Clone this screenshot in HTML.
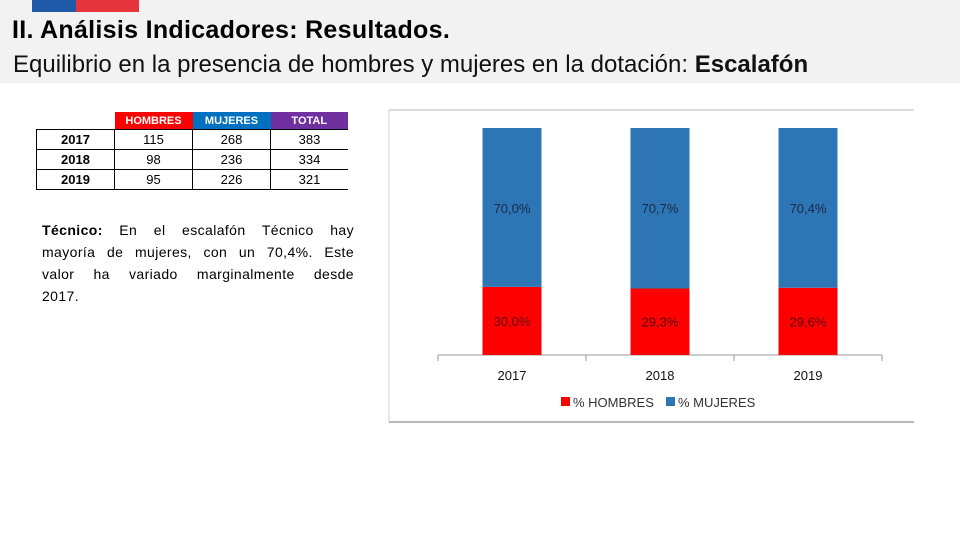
<!DOCTYPE html>
<html><head><meta charset="utf-8"><style>
body{margin:0;width:960px;height:540px;background:#fff;position:relative;overflow:hidden;font-family:"Liberation Sans",sans-serif}
.abs{position:absolute}
table{border-collapse:collapse;position:absolute;left:36px;top:112px;font-size:13px}
td{width:77px;height:19px;text-align:center;padding:0;border-left:1px solid #000;border-bottom:1px solid #000}
th{height:17px;color:#fff;font-size:11px;padding:0;border:none}
.ln{display:block;text-align:justify;text-align-last:justify}
</style></head><body>
<div class="abs" style="left:0;top:0;width:960px;height:83px;background:#f2f2f2"></div>
<div class="abs" style="left:32px;top:0;width:44px;height:12px;background:#1f5ba8"></div>
<div class="abs" style="left:76px;top:0;width:63px;height:12px;background:#e5343c"></div>
<div class="abs" style="left:12px;top:16px;font-size:25px;font-weight:bold;letter-spacing:0.3px">II. Análisis Indicadores: Resultados.</div>
<div class="abs" style="left:13px;top:51px;font-size:24px;color:#111">Equilibrio en la presencia de hombres y mujeres en la dotación: <b>Escalafón</b></div>
<table>
<tr><th style="background:none;border:none"></th><th style="background:#f00">HOMBRES</th><th style="background:#0070c0">MUJERES</th><th style="background:#7030a0">TOTAL</th></tr>
<tr style="border-top:1px solid #000"><td style="font-weight:bold">2017</td><td>115</td><td>268</td><td>383</td></tr>
<tr><td style="font-weight:bold">2018</td><td>98</td><td>236</td><td>334</td></tr>
<tr><td style="font-weight:bold">2019</td><td>95</td><td>226</td><td>321</td></tr>
</table>
<div class="abs" style="left:42px;top:219px;width:312px;font-size:14px;line-height:22px;letter-spacing:0.4px">
<span class="ln"><b>Técnico:</b> En el escalafón Técnico hay</span>
<span class="ln">mayoría de mujeres, con un 70,4%. Este</span>
<span class="ln">valor ha variado marginalmente desde</span>
<span style="display:block">2017.</span></div>
<svg class="abs" style="left:0;top:0" width="960" height="540">
<line x1="389" y1="110" x2="914" y2="110" stroke="#d0d0d0" stroke-width="1.5"/>
<line x1="389" y1="110" x2="389" y2="422" stroke="#d0d0d0"/>
<line x1="389" y1="422" x2="914" y2="422" stroke="#b8b8b8" stroke-width="2"/>
<g id="g"></g>
<rect x="561" y="397" width="9" height="9" fill="#f00"/>
<text x="573" y="407" font-size="13" fill="#333">% HOMBRES</text>
<rect x="666" y="397" width="9" height="9" fill="#2e75b6"/>
<text x="678" y="407" font-size="13" fill="#333">% MUJERES</text>
</svg>
<script>
const categories=["2017","2018","2019"];
const hombres=[30.0,29.3,29.6];
const mujeres=[70.0,70.7,70.4];
const ns="http://www.w3.org/2000/svg",g=document.getElementById('g');
const x0=438,bw=148,base=355,plotTop=128;
const y=v=>base-(v/100)*(base-plotTop);
function el(t,a){const e=document.createElementNS(ns,t);for(const k in a)e.setAttribute(k,a[k]);g.appendChild(e);return e;}
const ax=el('line',{x1:x0,y1:base,x2:x0+bw*3,y2:base,stroke:'#999'});


for(let i=0;i<=3;i++)el('line',{x1:x0+i*bw,y1:base,x2:x0+i*bw,y2:base+6,stroke:'#999'});
const fmt=v=>v.toFixed(1).replace('.',',')+'%';
categories.forEach((c,i)=>{
const cx=x0+bw*(i+0.5),w=59;
const r=el('rect',{x:cx-w/2,y:y(hombres[i]),width:w,height:base-y(hombres[i]),fill:'#f00'});


const b=el('rect',{x:cx-w/2,y:y(hombres[i]+mujeres[i]),width:w,height:y(hombres[i])-y(hombres[i]+mujeres[i]),fill:'#2e75b6'});


const t1=el('text',{x:cx,y:(y(hombres[i])+base)/2+5,'text-anchor':'middle','font-size':13,fill:'#5a0000'});t1.textContent=fmt(hombres[i]);
const t2=el('text',{x:cx,y:y(hombres[i]+mujeres[i])+85,'text-anchor':'middle','font-size':13,fill:'#1a2a44'});t2.textContent=fmt(mujeres[i]);
const t3=el('text',{x:cx,y:380,'text-anchor':'middle','font-size':13,fill:'#111'});t3.textContent=c;


});
</script>
</body></html>
